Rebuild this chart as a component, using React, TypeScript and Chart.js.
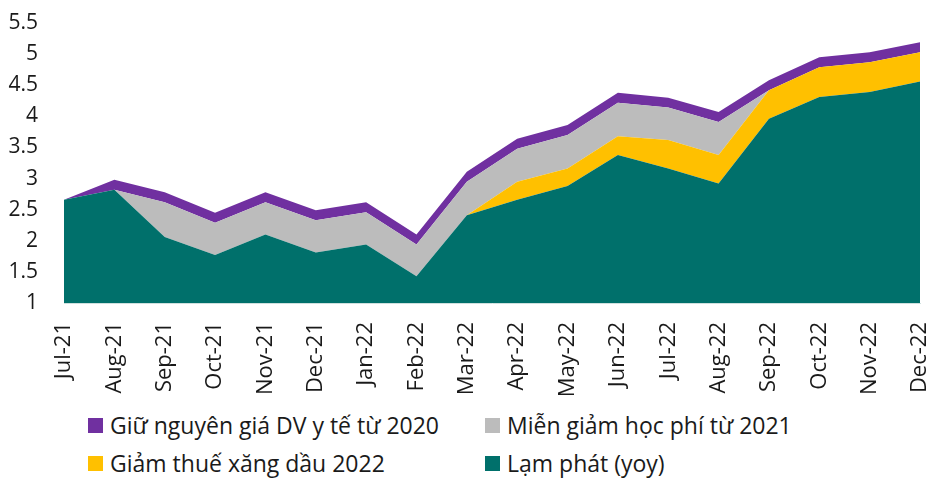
import React, { useEffect, useRef } from "react";
import { Chart, registerables } from "chart.js";

Chart.register(...registerables);

const months = [
  "Jul-21", "Aug-21", "Sep-21", "Oct-21", "Nov-21", "Dec-21",
  "Jan-22", "Feb-22", "Mar-22", "Apr-22", "May-22", "Jun-22",
  "Jul-22", "Aug-22", "Sep-22", "Oct-22", "Nov-22", "Dec-22",
];

const lamPhat = [2.66, 2.82, 2.06, 1.77, 2.10, 1.81, 1.94, 1.43, 2.41, 2.66, 2.88, 3.38, 3.16, 2.92, 3.96, 4.31, 4.39, 4.56];
const giamThueXang = [0, 0, 0, 0, 0, 0, 0, 0, 0, 0.29, 0.28, 0.30, 0.46, 0.46, 0.46, 0.48, 0.48, 0.47];
const mienGiamHocPhi = [0, 0, 0.56, 0.52, 0.52, 0.52, 0.52, 0.51, 0.54, 0.53, 0.54, 0.54, 0.52, 0.53, 0, 0, 0, 0];
const giuNguyenGiaYTe = [0, 0.16, 0.16, 0.16, 0.16, 0.16, 0.16, 0.16, 0.16, 0.16, 0.16, 0.16, 0.16, 0.16, 0.16, 0.16, 0.16, 0.16];

const yTicks = [1, 1.5, 2, 2.5, 3, 3.5, 4, 4.5, 5, 5.5];

const seriesNames = {
  yte: "Giữ nguyên giá DV y tế từ 2020",
  hocphi: "Miễn giảm học phí từ 2021",
  xang: "Giảm thuế xăng dầu 2022",
  lamphat: "Lạm phát (yoy)",
};

const colors = {
  lamphat: "#00706B",
  xang: "#FFC000",
  hocphi: "#BCBCBC",
  yte: "#7030A0",
};

const FONT = "'Open Sans', 'Noto Sans', sans-serif";
const TEXT = "#1a1a1a";

export default function App() {
  const ref = useRef<HTMLCanvasElement | null>(null);

  useEffect(() => {
    if (!ref.current) return;
    const mk = (label: string, data: number[], color: string, fill: any) => ({
      label,
      data,
      backgroundColor: color,
      borderColor: color,
      borderWidth: 0,
      pointRadius: 0,
      pointHoverRadius: 0,
      fill,
      tension: 0,
    });
    const chart = new Chart(ref.current, {
      type: "line",
      data: {
        labels: months,
        datasets: [
          mk(seriesNames.lamphat, lamPhat, colors.lamphat, "start"),
          mk(seriesNames.xang, giamThueXang, colors.xang, "-1"),
          mk(seriesNames.hocphi, mienGiamHocPhi, colors.hocphi, "-1"),
          mk(seriesNames.yte, giuNguyenGiaYTe, colors.yte, "-1"),
        ],
      },
      options: {
        animation: false,
        responsive: false,
        maintainAspectRatio: false,
        layout: { padding: { top: 23, right: 31, left: 0, bottom: 0 } },
        plugins: {
          legend: { display: false },
          tooltip: { enabled: false },
        },
        scales: {
          x: {
            type: "category",
            offset: false,
            grid: { display: false, drawTicks: false },
            border: { display: true, color: "#cfe0de", width: 1 },
            ticks: {
              autoSkip: false,
              minRotation: 90,
              maxRotation: 90,
              padding: 19,
              color: TEXT,
              font: { family: FONT, size: 22 },
            },
            afterFit: (s: any) => {
              s.height = 102;
              s.paddingLeft = 0;
              s.paddingRight = 0;
            },
          },
          y: {
            stacked: true,
            min: 1,
            max: 5.5,
            grid: { display: false, drawTicks: false },
            border: { display: false },
            afterBuildTicks: (s: any) => {
              s.ticks = yTicks.map((v) => ({ value: v }));
            },
            ticks: {
              padding: 26,
              color: TEXT,
              font: { family: FONT, size: 21 },
              callback: (v: any) => String(v),
            },
            afterFit: (s: any) => {
              s.width = 64;
              s.paddingTop = 0;
              s.paddingBottom = 0;
            },
          },
        },
      },
    });
    return () => chart.destroy();
  }, []);

  const legendItems = [
    { name: seriesNames.yte, color: colors.yte },
    { name: seriesNames.hocphi, color: colors.hocphi },
    { name: seriesNames.xang, color: colors.xang },
    { name: seriesNames.lamphat, color: colors.lamphat },
  ];
  const colX = [88, 485];
  const rowY = [425, 463];

  return (
    <div style={{ position: "fixed", left: 0, top: 0, width: 951, height: 489, background: "#fff", overflow: "hidden" }}>
      <canvas ref={ref} width={951} height={405} style={{ position: "absolute", left: 0, top: 0, width: 951, height: 405 }} />
      {legendItems.map((it, i) => (
        <div
          key={it.name}
          style={{
            position: "absolute",
            left: colX[i % 2],
            top: rowY[Math.floor(i / 2)] - 16,
            height: 32,
            display: "flex",
            alignItems: "center",
            fontFamily: FONT,
            fontSize: 23,
            color: TEXT,
            whiteSpace: "nowrap",
          }}
        >
          <span style={{ display: "inline-block", width: 15, height: 15, background: it.color, marginRight: 7 }} />
          <span>{it.name}</span>
        </div>
      ))}
    </div>
  );
}
